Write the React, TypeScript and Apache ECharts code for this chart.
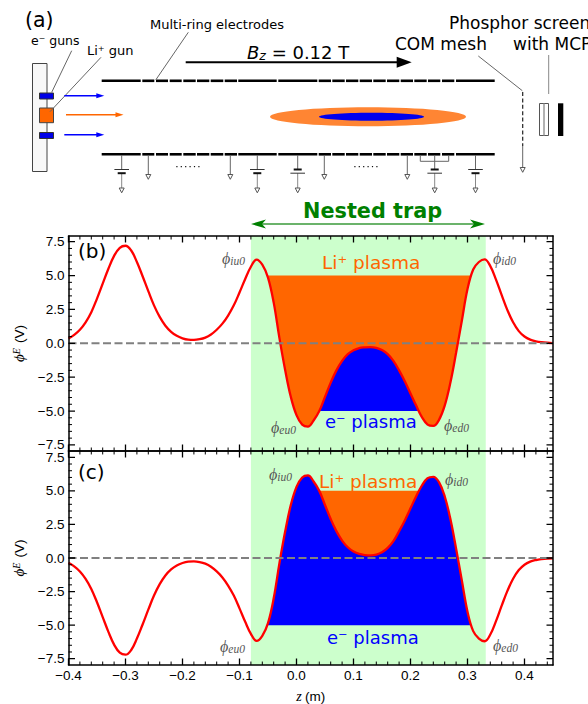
import React, { useEffect, useRef } from "react";
import * as echarts from "echarts";

const zValues = [-0.4,-0.39,-0.38,-0.37,-0.36,-0.35,-0.34,-0.33,-0.32,-0.31,-0.3,-0.29,-0.28,-0.27,-0.26,-0.25,-0.24,-0.23,-0.22,-0.21,-0.2,-0.19,-0.18,-0.17,-0.16,-0.15,-0.14,-0.13,-0.12,-0.11,-0.1,-0.09,-0.08,-0.07,-0.06,-0.05,-0.04,-0.03,-0.02,-0.01,0,0.01,0.02,0.03,0.04,0.05,0.06,0.07,0.08,0.09,0.1,0.11,0.12,0.13,0.14,0.15,0.16,0.17,0.18,0.19,0.2,0.21,0.22,0.23,0.24,0.25,0.26,0.27,0.28,0.29,0.3,0.31,0.32,0.33,0.34,0.35,0.36,0.37,0.38,0.39,0.4,0.41,0.42,0.43,0.44,0.45];
const phiB = [0.35,0.62,1.0,1.55,2.3,3.3,4.4,5.5,6.45,7.05,7.2,6.85,6.0,4.95,3.85,2.8,1.95,1.3,0.85,0.55,0.37,0.27,0.25,0.3,0.42,0.65,1.0,1.45,2.05,2.8,3.75,4.75,5.65,6.18,5.8,4.85,3.0,0.4,-1.95,-3.95,-5.3,-6.0,-6.15,-5.7,-5.0,-3.95,-2.9,-2.0,-1.3,-0.8,-0.52,-0.35,-0.3,-0.28,-0.33,-0.5,-0.8,-1.3,-2.0,-2.8,-3.7,-4.6,-5.45,-6.0,-6.1,-5.65,-4.6,-2.9,-0.7,1.65,4.0,5.45,6.0,6.2,5.7,4.7,3.55,2.45,1.55,0.9,0.5,0.27,0.15,0.08,0.04,0.02];
const phiC = [-0.35,-0.62,-1.0,-1.55,-2.3,-3.3,-4.4,-5.5,-6.45,-7.05,-7.2,-6.85,-6.0,-4.95,-3.85,-2.8,-1.95,-1.3,-0.85,-0.55,-0.37,-0.27,-0.25,-0.3,-0.42,-0.65,-1.0,-1.45,-2.05,-2.8,-3.75,-4.75,-5.65,-6.18,-5.8,-4.85,-3.0,-0.4,1.95,3.95,5.3,6.0,6.15,5.7,5.0,3.95,2.9,2.0,1.3,0.8,0.48,0.3,0.22,0.2,0.25,0.42,0.75,1.25,2.0,2.8,3.7,4.6,5.4,5.95,6.05,5.65,4.6,2.9,0.7,-1.65,-4.0,-5.45,-6.0,-6.2,-5.7,-4.7,-3.55,-2.45,-1.55,-0.9,-0.5,-0.27,-0.15,-0.08,-0.04,-0.02];

const outerFill = [-0.05, 0.3055];
const innerFill = [0.04, 0.214];
const plasmaLevel = 5;
const trapRange = [-0.08, 0.332];
const zRange = [-0.4, 0.45];
const yRangeB = [-7.95, 7.92];
const yRangeC = [-7.97, 7.97];

const xMajor = [-0.4,-0.3,-0.2,-0.1,0,0.1,0.2,0.3,0.4];
const xMinor = [-0.38,-0.36,-0.34,-0.32,-0.28,-0.26,-0.24,-0.22,-0.18,-0.16,-0.14,-0.12,-0.08,-0.06,-0.04,-0.02,0.02,0.04,0.06,0.08,0.12,0.14,0.16,0.18,0.22,0.24,0.26,0.28,0.32,0.34,0.36,0.38,0.42,0.44];
const yMajor = [-7.5,-5,-2.5,0,2.5,5,7.5];
const yMinor = [-7,-6.5,-6,-5.5,-4.5,-4,-3.5,-3,-2,-1.5,-1,-0.5,0.5,1,1.5,2,3,3.5,4,4.5,5.5,6,6.5,7];

const FONT = "DejaVu Sans";
const AXFONT = "Liberation Sans";
const GRID_W = 484.5;
const fmt = (v: number) => v.toFixed(1).replace("-", "\u2212");
const pairs = (ys: number[]) => zValues.map((z, i) => [z, ys[i]]);
const fillData = (ys: number[], r: number[], level: number) => [
  [r[0], level],
  ...pairs(ys).filter((p) => p[0] > r[0] && p[0] < r[1]),
  [r[1], level],
];

const spine = { show: true, onZero: false, lineStyle: { color: "#000", width: 1.5 } };
function axesFor(gridIndex: number, positions: string[], range: number[], major: number[], showLabels: boolean, name: any, margin: number) {
  return positions.map((position, p) => ({
    type: "value", gridIndex, position, min: range[0], max: range[1], z: 10,
    splitLine: { show: false },
    axisLine: spine,
    axisTick: { show: false },
    axisLabel: p === 0 && showLabels
      ? { show: true, customValues: major, formatter: fmt, color: "#000", fontFamily: AXFONT, fontSize: 13.5, lineHeight: 11, margin }
      : { show: false },
    ...(p === 0 && name ? name : {}),
  }));
}

const yName = {
  name: "{p|\u03d5}{s|E} {u|(V)}",
  nameLocation: "middle",
  nameRotate: 90,
  nameGap: 31,
  nameTextStyle: {
    rich: {
      p: { fontFamily: "Liberation Serif", fontStyle: "italic", fontSize: 15, color: "#000" },
      s: { fontFamily: "Liberation Serif", fontStyle: "italic", fontSize: 10, color: "#000", verticalAlign: "top", padding: [0, 2, 0, 0] },
      u: { fontFamily: AXFONT, fontSize: 13.5, color: "#000" },
    },
  },
};
const xName = {
  name: "{i|z} {u|(m)}",
  nameLocation: "middle",
  nameGap: 24,
  nameTextStyle: {
    rich: {
      i: { fontFamily: "Liberation Serif", fontStyle: "italic", fontSize: 14, color: "#000" },
      u: { fontFamily: AXFONT, fontSize: 13.5, color: "#000" },
    },
  },
};

// Ticks: short line segments in data space, one segment per tick on each side of the frame.
function tickSeries(ax: number, yRange: number[], heightPx: number) {
  const build = (xs: number[], ys: number[], lenPx: number, width: number) => {
    const dz = (lenPx / GRID_W) * (zRange[1] - zRange[0]);
    const dy = (lenPx / heightPx) * (yRange[1] - yRange[0]);
    const data: any[] = [];
    xs.forEach((v) => {
      data.push([v, yRange[0]], [v, yRange[0] + dy], [v, null]);
      data.push([v, yRange[1]], [v, yRange[1] - dy], [v, null]);
    });
    ys.forEach((v) => {
      data.push([zRange[0], v], [zRange[0] + dz, v], [null, v]);
      data.push([zRange[1], v], [zRange[1] - dz, v], [null, v]);
    });
    return {
      type: "line", name: "ticks", xAxisIndex: ax, yAxisIndex: ax, symbol: "none", silent: true, z: 8, connectNulls: false,
      clip: false, data, lineStyle: { color: "#000", width },
    };
  };
  return [build(xMajor, yMajor, 6.5, 1.3), build(xMinor, yMinor, 3.5, 1)];
}

function panelSeries(ax: number, ys: number[], yRange: number[], heightPx: number, outerColor: string, innerColor: string, outerLevel: number, innerLevel: number) {
  const base = { type: "line", xAxisIndex: ax, yAxisIndex: ax, symbol: "none", silent: true };
  return [
    { ...base, name: "outer", data: fillData(ys, outerFill, outerLevel), smooth: 0.3, z: 3, lineStyle: { width: 0 }, areaStyle: { color: outerColor, opacity: 1, origin: outerLevel },
      markArea: { silent: true, z: 1, itemStyle: { color: "#ccffcc", opacity: 1 }, data: [[{ xAxis: trapRange[0] }, { xAxis: trapRange[1] }]] } },
    { ...base, name: "inner", data: fillData(ys, innerFill, innerLevel), smooth: 0.3, z: 4, lineStyle: { width: 0 }, areaStyle: { color: innerColor, opacity: 1, origin: innerLevel } },
    { ...base, name: "phi", data: pairs(ys), smooth: 0.4, z: 5, lineStyle: { color: "#ff0000", width: 2.3 } },
    { ...base, name: "zero", data: [[zRange[0], 0], [zRange[1], 0]], z: 6, lineStyle: { color: "#808080", width: 2, type: [8, 3.5] } },
    ...tickSeries(ax, yRange, heightPx),
  ];
}

const Z = 100;
const line = (x1: number, y1: number, x2: number, y2: number, stroke = "#666", lineWidth = 1, extra: any = {}) => ({
  type: "line", z: Z, silent: true, shape: { x1, y1, x2, y2 }, style: { stroke, lineWidth, ...extra },
});
const rect = (x: number, y: number, width: number, height: number, fill: string, stroke = "none", lineWidth = 1) => ({
  type: "rect", z: Z, silent: true, shape: { x, y, width, height }, style: { fill, stroke, lineWidth },
});
const poly = (points: number[][], fill: string, stroke = "none") => ({
  type: "polygon", z: Z, silent: true, shape: { points }, style: { fill, stroke, lineWidth: 1 },
});
const text = (t: string, x: number, y: number, size: number, fill = "#000", extra: any = {}) => ({
  type: "text", z: Z, silent: true, x, y,
  style: { text: t, fill, fontFamily: FONT, fontSize: size, textAlign: "left", textVerticalAlign: "middle", ...extra },
});
const phiLabel = (sub: string, x: number, y: number) => ({
  type: "text", z: Z, silent: true, x, y,
  style: {
    text: `{p|\u03d5}{s|${sub}}`, textAlign: "left", textVerticalAlign: "middle",
    rich: {
      p: { fontFamily: "Liberation Serif", fontStyle: "italic", fontSize: 16, fill: "#555", color: "#555" },
      s: { fontFamily: "Liberation Serif", fontStyle: "italic", fontSize: 11.5, fill: "#555", color: "#555", padding: [5, 0, 0, 0] },
    },
  },
});
const arrow = (x1: number, x2: number, y: number, color: string, w: number, headLen: number, half: number) => [
  line(x1, y, x2 - headLen + 1, y, color, w),
  poly([[x2, y], [x2 - headLen, y - half], [x2 - headLen, y + half]], color),
];
const ground = (x: number, y: number) => poly([[x - 2.5, y], [x + 2.5, y], [x, y + 4.8]], "#fff", "#555");
const simple = (x: number) => [line(x, 155, x, 174.5), ground(x, 174.5)];
const battery = (x: number, longFirst: boolean) => {
  const y1 = 169.5, y2 = 173.2;
  return [
    line(x, 155, x, y1),
    line(x, y2, x, 188, "#888", 1),
    line(x - 7.3, longFirst ? y1 : y2, x + 7.3, longFirst ? y1 : y2, "#333", 1),
    line(x - 4, longFirst ? y2 : y1, x + 4, longFirst ? y2 : y1, "#111", 2),
    ground(x, 188),
  ];
};
const dots = (x0: number, n: number) => Array.from({ length: n }, (_, i) => rect(x0 + i * 4.4, 166, 1.2, 1.2, "#111"));

const segments = [[101.7,140.7],[142.3,154.3],[156,168],[169.7,181.7],[183.3,195.7],[197,209.3],[210.7,223.3],[224.7,237],[238.3,276.7],[278.3,317.3],[318.7,331],[332.3,344.7],[346,358.3],[359.7,372],[373.3,385.7],[387,399.3],[400.7,413],[414.3,426.7],[428,440.3],[442,454.3],[456,494.7]];

function schematic(): any[] {
  const els: any[] = [];
  segments.forEach(([a, b]) => {
    els.push(rect(a, 79.5, b - a, 2.6, "#000"));
    els.push(rect(a, 153, b - a, 2.6, "#000"));
  });
  els.push(rect(32.5, 63.5, 14.5, 108, "#f8f8f8", "#444", 1));
  els.push(rect(39.5, 93, 14, 6, "#0000e6", "#333", 1));
  els.push(rect(39.5, 132.5, 14, 6, "#0000e6", "#333", 1));
  els.push(rect(39.5, 108, 14, 14.7, "#ff6600", "#444", 1));
  els.push(line(71.7, 50.7, 51.7, 92.3), line(101, 57.3, 50, 111.7), line(188.3, 32.3, 155.7, 80));
  els.push(...arrow(64.3, 104.3, 95.7, "#0000ff", 1.5, 8, 2.5));
  els.push(...arrow(64.3, 104.3, 134.7, "#0000ff", 1.5, 8, 2.5));
  els.push(...arrow(66, 123.5, 114.7, "#ff6600", 1.5, 8, 2.5));
  els.push(...arrow(185.7, 411.7, 62.3, "#000", 2, 15, 5.5));
  els.push({ type: "ellipse", z: Z, silent: true, shape: { cx: 368, cy: 116.7, rx: 98, ry: 9.5 }, style: { fill: "#ff8533" } });
  els.push({ type: "ellipse", z: Z, silent: true, shape: { cx: 371.5, cy: 116.7, rx: 52.5, ry: 4 }, style: { fill: "#0000ee" } });
  [121.7, 257.3].forEach((x) => els.push(...battery(x, true)));
  [297.7, 434.7].forEach((x) => els.push(...battery(x, false)));
  els.push(...battery(475.5, true));
  [148.3, 230.3, 324.3, 407.3].forEach((x) => els.push(...simple(x)));
  els.push(line(420.3, 155, 420.3, 161.3), line(448.7, 155, 448.7, 161.3), line(420.3, 161.3, 448.7, 161.3));
  els.push(...dots(176.3, 6), ...dots(354.3, 6));
  els.push(line(478.3, 56, 522.3, 90.7), line(548.7, 55, 548.7, 94, "#888"));
  els.push(line(522.7, 92, 522.7, 146, "#222", 1.2, { lineDash: [4, 2.4] }));
  els.push(line(522.7, 146, 522.7, 167.5), ground(522.7, 167.5));
  els.push(rect(539.5, 103.5, 9, 32, "#fff", "#555", 1), line(544, 103.5, 544, 135.5, "#999", 1.5));
  els.push(rect(558, 103.3, 5.3, 32.7, "#000"));
  els.push(text("(a)", 25, 20, 20.5));
  els.push(text("e\u207b guns", 31, 40.5, 12.5));
  els.push(text("Li\u207a gun", 87, 50.5, 13));
  els.push(text("Multi-ring electrodes", 150, 24.5, 13));
  els.push({
    type: "text", z: Z, silent: true, x: 247, y: 52,
    style: {
      text: "{i|B}{s|z}{n| = 0.12 T}", textAlign: "left", textVerticalAlign: "middle",
      rich: {
        i: { fontFamily: FONT, fontStyle: "italic", fontSize: 18, fill: "#000" },
        s: { fontFamily: FONT, fontStyle: "italic", fontSize: 12.5, fill: "#000", padding: [6, 0, 0, 0] },
        n: { fontFamily: FONT, fontSize: 18, fill: "#000" },
      },
    },
  });
  els.push(text("COM mesh", 395, 44, 17));
  els.push(text("Phosphor screen", 449, 23, 17));
  els.push(text("with MCP", 513, 44, 17));
  els.push(text("Nested trap", 303, 211, 20.8, "#008000", { fontWeight: "bold" }));
  els.push(line(256, 224, 480, 224, "#3a9a3a", 1.3));
  els.push(poly([[251, 224], [266, 219.5], [262, 224], [266, 228.5]], "#008000"));
  els.push(poly([[485, 224], [470, 219.5], [474, 224], [470, 228.5]], "#008000"));
  els.push(text("(b)", 78, 251, 20));
  els.push(text("(c)", 78, 472, 20));
  els.push(text("Li\u207a plasma", 322, 262, 18.5, "#ff6600"));
  els.push(text("e\u207b plasma", 325, 421.5, 18, "#0000ff"));
  els.push(text("Li\u207a plasma", 319, 481, 18.5, "#ff6600"));
  els.push(text("e\u207b plasma", 327, 637, 18, "#0000ff"));
  els.push(phiLabel("iu0", 222, 258), phiLabel("id0", 493, 258), phiLabel("eu0", 271, 427), phiLabel("ed0", 444, 425));
  els.push(phiLabel("iu0", 269, 474), phiLabel("id0", 445, 479), phiLabel("eu0", 220, 646), phiLabel("ed0", 493, 645));
  return els;
}

export default function App() {
  const ref = useRef<HTMLDivElement>(null);
  useEffect(() => {
    const chart = echarts.init(ref.current!, undefined, { renderer: "svg" });
    chart.setOption({
      animation: false,
      backgroundColor: "#fff",
      grid: [
        { left: 68.5, width: GRID_W, top: 236, height: 215 },
        { left: 68.5, width: GRID_W, top: 451, height: 216 },
      ],
      xAxis: [
        ...axesFor(0, ["bottom", "top"], zRange, xMajor, false, null, 5),
        ...axesFor(1, ["bottom", "top"], zRange, xMajor, true, xName, 5),
      ],
      yAxis: [
        ...axesFor(0, ["left", "right"], yRangeB, yMajor, true, yName, 4),
        ...axesFor(1, ["left", "right"], yRangeC, yMajor, true, yName, 4),
      ],
      series: [
        ...panelSeries(0, phiB, yRangeB, 215, "#ff6600", "#0000ff", plasmaLevel, -plasmaLevel),
        ...panelSeries(2, phiC, yRangeC, 216, "#0000ff", "#ff6600", -plasmaLevel, plasmaLevel),
      ],
      graphic: { elements: schematic() },
    });
    return () => chart.dispose();
  }, []);
  return <div ref={ref} style={{ position: "absolute", left: 0, top: 0, width: 588, height: 704 }} />;
}
